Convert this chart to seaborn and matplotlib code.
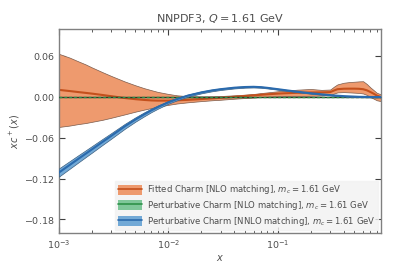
"""Charm PDF at Q = 1.61 GeV: fitted vs perturbative (NLO / NNLO matching)."""

import matplotlib

matplotlib.use("Agg")
import matplotlib.pyplot as plt
import numpy as np
import seaborn as sns
from matplotlib.lines import Line2D
from matplotlib.patches import Patch

sns.set_theme(style="ticks")
plt.rcParams["font.family"] = ["DejaVu Sans"]
plt.rcParams["mathtext.fontset"] = "dejavusans"

x = [0.001, 0.00125, 0.0015, 0.00175, 0.002, 0.0025, 0.003, 0.004, 0.005,
     0.006, 0.007, 0.008, 0.01, 0.012, 0.015, 0.02, 0.025, 0.03, 0.04, 0.05,
     0.06, 0.07, 0.08, 0.1, 0.12, 0.15, 0.2, 0.25, 0.3, 0.33, 0.35, 0.4,
     0.45, 0.5, 0.55, 0.6, 0.65, 0.7, 0.75, 0.8, 0.87]

# Fitted charm (NLO matching): central value and band edges
fit_c = [0.0105, 0.0088, 0.0073, 0.0061, 0.0050, 0.0030, 0.0012, -0.0015,
         -0.0032, -0.0043, -0.0050, -0.0053, -0.0053, -0.0048, -0.0042,
         -0.0030, -0.0020, -0.0012, 0.0003, 0.0015, 0.0025, 0.0033, 0.0040,
         0.0050, 0.0056, 0.0062, 0.0067, 0.0068, 0.0072, 0.0100, 0.0115,
         0.0122, 0.0123, 0.0123, 0.0121, 0.0115, 0.0098, 0.0073, 0.0048,
         0.0022, 0.0000]
fit_up = [0.0635, 0.0580, 0.0525, 0.0480, 0.0435, 0.0365, 0.0310, 0.0228,
          0.0172, 0.0130, 0.0100, 0.0075, 0.0045, 0.0025, 0.0013, 0.0010,
          0.0011, 0.0015, 0.0025, 0.0035, 0.0045, 0.0058, 0.0068, 0.0085,
          0.0096, 0.0108, 0.0118, 0.0105, 0.0110, 0.0160, 0.0186, 0.0210,
          0.0220, 0.0225, 0.0230, 0.0232, 0.0190, 0.0140, 0.0100, 0.0062,
          0.0040]
fit_lo = [-0.0440, -0.0420, -0.0398, -0.0383, -0.0365, -0.0335, -0.0305,
          -0.0255, -0.0215, -0.0185, -0.0162, -0.0142, -0.0115, -0.0095,
          -0.0078, -0.0060, -0.0048, -0.0040, -0.0025, -0.0015, -0.0008,
          0.0000, 0.0005, 0.0010, 0.0013, 0.0015, 0.0018, 0.0022, 0.0028,
          0.0055, 0.0068, 0.0072, 0.0068, 0.0064, 0.0060, 0.0052, 0.0030,
          0.0000, -0.0025, -0.0048, -0.0060]

# Perturbative charm, NLO matching (vanishes at Q = m_c)
nlo_c = [0.0] * len(x)
nlo_err = [0.0004] * len(x)

# Perturbative charm, NNLO matching
nnlo_c = [-0.1110, -0.1000, -0.0910, -0.0835, -0.0770, -0.0660, -0.0572,
          -0.0430, -0.0330, -0.0255, -0.0195, -0.0148, -0.0078, -0.0030,
          0.0020, 0.0068, 0.0097, 0.0115, 0.0137, 0.0147, 0.0150, 0.0145,
          0.0135, 0.0115, 0.0098, 0.0078, 0.0055, 0.0040, 0.0028, 0.0022,
          0.0019, 0.0013, 0.0009, 0.0006, 0.0003, 0.0002, 0.0001, 0.0000,
          0.0000, 0.0000, 0.0000]
nnlo_err = [0.0060, 0.0056, 0.0053, 0.0050, 0.0048, 0.0044, 0.0041, 0.0036,
            0.0032, 0.0029, 0.0026, 0.0024, 0.0020, 0.0018, 0.0016, 0.0014,
            0.0013, 0.0012, 0.0011, 0.0010, 0.0010, 0.0009, 0.0009, 0.0008,
            0.0008, 0.0007, 0.0007, 0.0006, 0.0006, 0.0006, 0.0006, 0.0005,
            0.0005, 0.0005, 0.0005, 0.0005, 0.0005, 0.0005, 0.0005, 0.0005,
            0.0005]

labels = [
    r"Fitted Charm [NLO matching], $m_c = 1.61$ GeV",
    r"Perturbative Charm [NLO matching], $m_c = 1.61$ GeV",
    r"Perturbative Charm [NNLO matching], $m_c = 1.61$ GeV",
]
fills = ["#ee9a6e", "#7fc79a", "#72a9d6"]
lines = ["#c4501c", "#2e9149", "#2a6aad"]

TXT = "0.3"

fig = plt.figure(figsize=(3.93, 2.71), dpi=100)
ax = fig.add_axes([0.150, 0.140, 0.819, 0.753])
ax.set_xscale("log")

xa = np.array(x)
# fitted
ax.fill_between(xa, fit_lo, fit_up, facecolor=fills[0], edgecolor="#7a5a4a",
                linewidth=0.5, zorder=1)
sns.lineplot(x=x, y=fit_c, ax=ax, color=lines[0], lw=1.5, zorder=2)
# perturbative NLO
nlo = np.array(nlo_c)
ax.fill_between(xa, nlo - nlo_err, nlo + nlo_err, facecolor=fills[1],
                linewidth=0, zorder=3)
ax.plot(xa, nlo, color="#2b3a2b", lw=1.0, zorder=3)
sns.lineplot(x=x, y=nlo_c, ax=ax, color=lines[1], lw=1.0,
             zorder=3).lines[-1].set_dashes([2, 1.5])
# perturbative NNLO
nn = np.array(nnlo_c)
ne = np.array(nnlo_err)
ax.fill_between(xa, nn - ne, nn + ne, facecolor=fills[2], edgecolor="#3c5f80",
                linewidth=0.5, zorder=4)
sns.lineplot(x=x, y=nnlo_c, ax=ax, color=lines[2], lw=1.5, zorder=5)

ax.set_xlim(1e-3, 0.87)
ax.set_ylim(-0.2, 0.1)
ax.set_yticks([0.06, 0.0, -0.06, -0.12, -0.18])
ax.set_yticklabels(["0.06", "0.00", r"$-0.06$", r"$-0.12$", r"$-0.18$"])

ax.tick_params(which="both", direction="in", top=True, right=True,
               labelsize=6.8, colors="0.25", labelcolor=TXT)
ax.tick_params(which="major", length=4, width=0.8)
ax.tick_params(which="minor", length=2.5, width=0.6)
ax.tick_params(axis="y", which="minor", left=False, right=False)
for s in ax.spines.values():
    s.set_color("0.5")
    s.set_linewidth(1.0)

ax.set_title(r"NNPDF3, $Q = 1.61$ GeV", fontsize=8, color=TXT, pad=5)
ax.set_xlabel(r"$x$", fontsize=7, color=TXT, labelpad=2)
ax.set_ylabel(r"$xc^+(x)$", fontsize=7, color=TXT, labelpad=1)

handles = [(Patch(facecolor=f, edgecolor="none"), Line2D([], [], color=c, lw=1.2))
           for f, c in zip(fills, lines)]
leg = ax.legend(handles, labels, loc="lower right", fontsize=6.1, frameon=True,
                handlelength=2.8, handleheight=1.4, handletextpad=0.6,
                labelspacing=0.3, borderpad=0.3, borderaxespad=0.35,
                fancybox=False)
leg.get_frame().set_facecolor("0.95")
leg.get_frame().set_edgecolor("0.95")
for t in leg.get_texts():
    t.set_color(TXT)

fig.savefig("out.png", dpi=100)
plt.close(fig)
